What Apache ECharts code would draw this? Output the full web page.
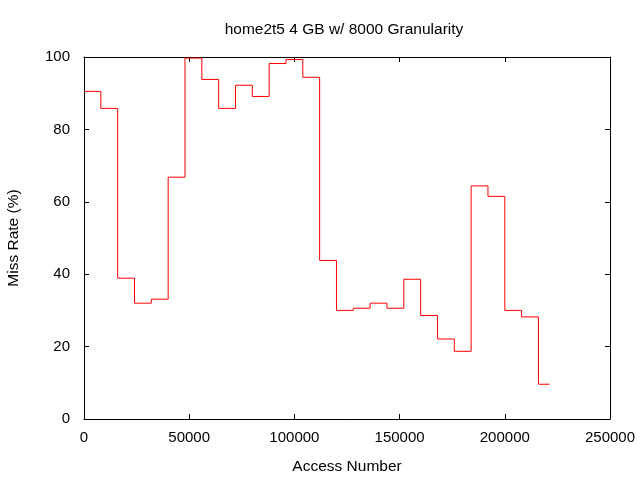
<!DOCTYPE html>
<html>
<head>
<meta charset="utf-8">
<script src="https://cdn.jsdelivr.net/npm/echarts@6/dist/echarts.min.js"></script>
<style>html,body{margin:0;padding:0;background:#fff}#c{width:640px;height:480px}</style>
</head>
<body>
<div id="c"></div>
<script>
// Step start positions (access number) and miss-rate values
var accessNumbers = [0, 8000, 16000, 24000, 32000, 40000, 48000, 56000, 64000, 72000,
  80000, 88000, 96000, 104000, 112000, 120000, 128000, 136000, 144000, 152000,
  160000, 168000, 176000, 184000, 192000, 200000, 208000, 216000, 221300];
var missRates = [90.5, 85.8, 38.9, 32.0, 33.1, 66.8, 99.7, 93.8, 85.8, 92.2,
  89.1, 98.2, 99.3, 94.4, 43.8, 30.0, 30.6, 32.0, 30.6, 38.6,
  28.6, 22.1, 18.7, 64.4, 61.5, 30.0, 28.2, 9.6, 9.6];
var xTicks = [0, 50000, 100000, 150000, 200000, 250000];
var yTicks = [0, 20, 40, 60, 80, 100];

var FONT = 'Liberation Sans';
var seriesData = accessNumbers.map(function (x, i) { return [x, missRates[i]]; });

var chart = echarts.init(document.getElementById('c'), null, {renderer: 'canvas'});
function common() {
  return {
    axisLine: {show: true, onZero: false, lineStyle: {color: '#000', width: 1}},
    axisTick: {show: true, inside: true, length: 5, lineStyle: {color: '#000', width: 1}},
    splitLine: {show: false}
  };
}
var plain = function (v) { return String(v); };
chart.setOption({
  animation: false,
  backgroundColor: '#fff',
  title: {
    text: 'home2t5 4 GB w/ 8000 Granularity',
    left: 339, top: 17, textAlign: 'center',
    textStyle: {fontFamily: FONT, fontSize: 15.5, fontWeight: 'normal', color: '#000'}
  },
  grid: {left: 84, right: 30, top: 57, bottom: 61, containLabel: false, outerBoundsMode: 'none'},
  xAxis: [
    Object.assign(common(), {
      type: 'value', min: xTicks[0], max: xTicks[xTicks.length - 1], interval: 50000,
      position: 'bottom',
      name: 'Access Number', nameLocation: 'middle', nameGap: 40,
      nameTextStyle: {fontFamily: FONT, fontSize: 15.5, color: '#000'},
      axisLabel: {fontFamily: FONT, fontSize: 15, color: '#000', margin: 11, formatter: plain}
    }),
    Object.assign(common(), {
      type: 'value', min: xTicks[0], max: xTicks[xTicks.length - 1], interval: 50000,
      position: 'top', axisLabel: {show: false}
    })
  ],
  yAxis: [
    Object.assign(common(), {
      type: 'value', min: yTicks[0], max: yTicks[yTicks.length - 1], interval: 20,
      position: 'left',
      name: 'Miss Rate (%)', nameLocation: 'middle', nameGap: 62, nameRotate: 90,
      nameTextStyle: {fontFamily: FONT, fontSize: 15.5, color: '#000'},
      axisLabel: {fontFamily: FONT, fontSize: 15, color: '#000', margin: 14, formatter: plain}
    }),
    Object.assign(common(), {
      type: 'value', min: yTicks[0], max: yTicks[yTicks.length - 1], interval: 20,
      position: 'right', axisLabel: {show: false}
    })
  ],
  series: [{
    type: 'line',
    step: 'end',
    data: seriesData,
    showSymbol: false,
    symbol: 'none',
    lineStyle: {color: '#ff0000', width: 1},
    itemStyle: {color: '#ff0000'},
    xAxisIndex: 0, yAxisIndex: 0
  }]
});
</script>
</body>
</html>
